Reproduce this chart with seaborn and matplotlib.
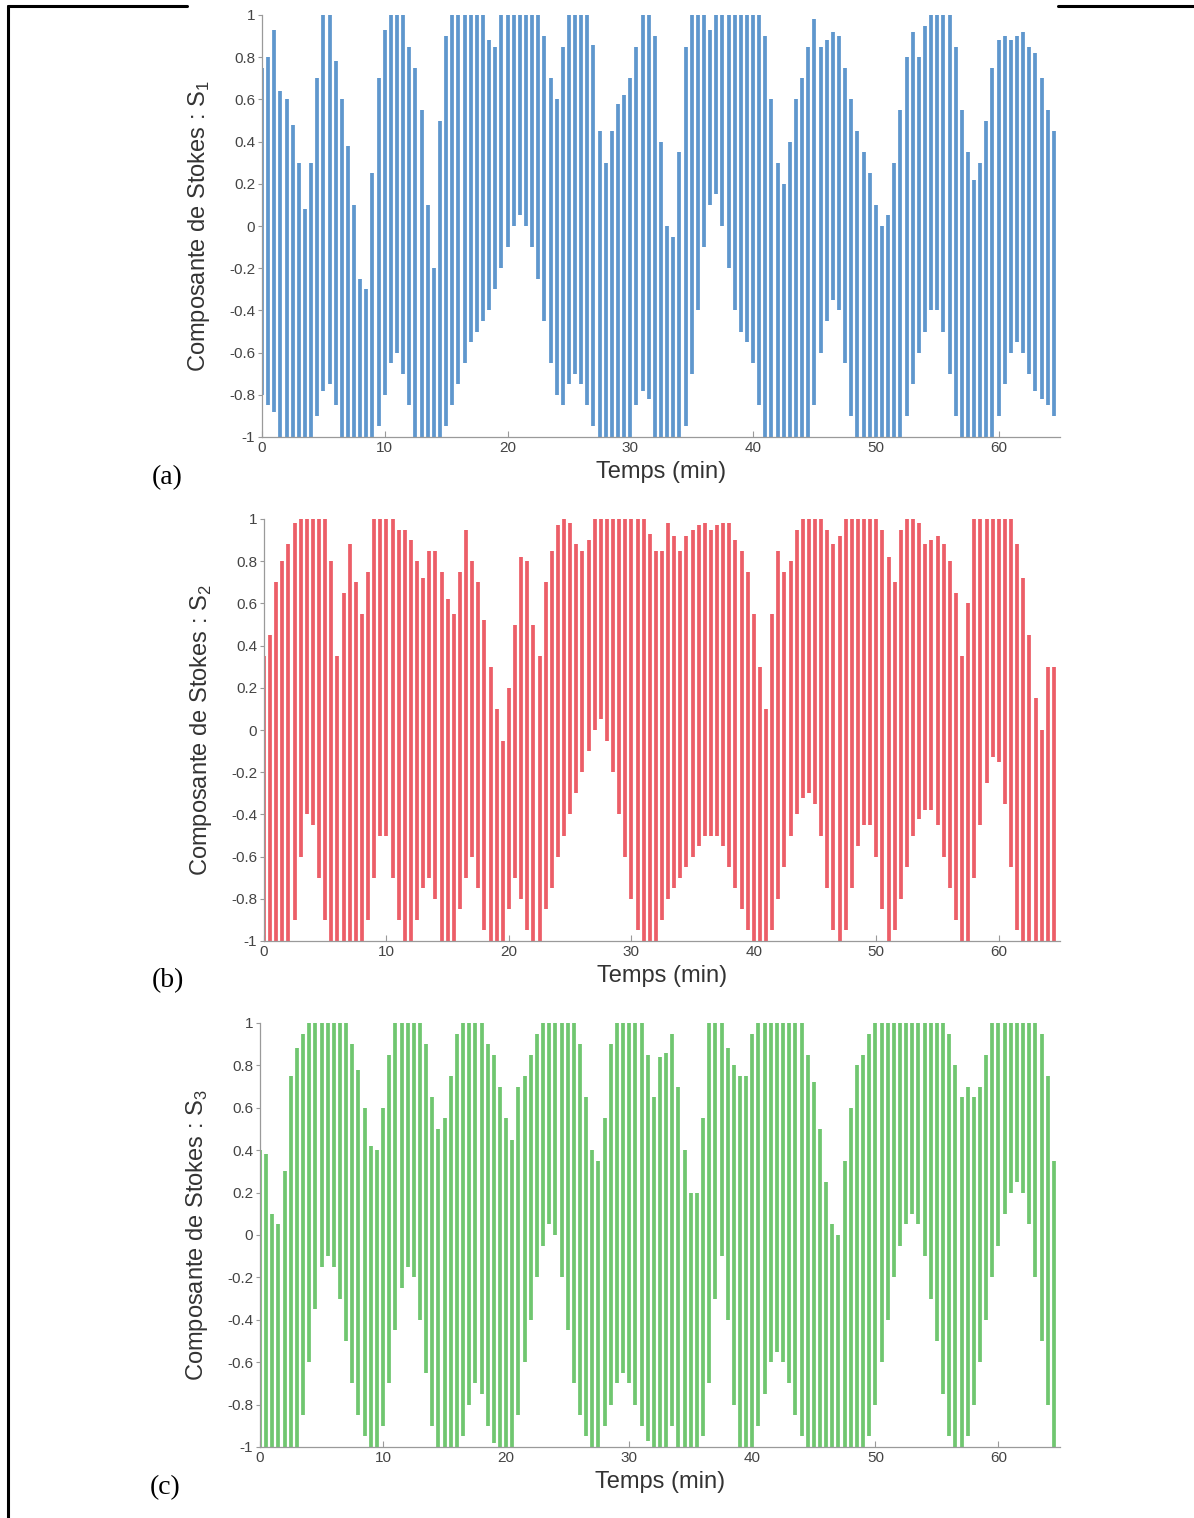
import numpy as np
import pandas as pd
import seaborn as sns
import matplotlib
matplotlib.use('Agg')
import matplotlib.pyplot as plt
from matplotlib.lines import Line2D

# instants des oscillations (min) : une barre toutes les 30 s
temps = np.arange(130) * 0.5

# S1 : sommet et creux de chaque oscillation
s1_haut = [0.75, 0.8, 0.93, 0.64, 0.6, 0.48, 0.3, 0.08, 0.3, 0.7,
           1.0, 1.0, 0.78, 0.6, 0.38, 0.1, -0.25, -0.3, 0.25, 0.7,
           0.93, 1.0, 1.0, 1.0, 0.85, 0.75, 0.55, 0.1, -0.2, 0.5,
           0.9, 1.0, 1.0, 1.0, 1.0, 1.0, 1.0, 0.88, 0.85, 1.0,
           1.0, 1.0, 1.0, 1.0, 1.0, 1.0, 0.9, 0.7, 0.6, 0.85,
           1.0, 1.0, 1.0, 1.0, 0.86, 0.45, 0.3, 0.45, 0.58, 0.62,
           0.7, 0.85, 1.0, 1.0, 0.9, 0.4, 0.0, -0.05, 0.35, 0.85,
           1.0, 1.0, 1.0, 0.93, 1.0, 1.0, 1.0, 1.0, 1.0, 1.0,
           1.0, 1.0, 0.9, 0.6, 0.3, 0.2, 0.4, 0.6, 0.7, 0.85,
           0.98, 0.85, 0.88, 0.92, 0.9, 0.75, 0.6, 0.45, 0.35, 0.25,
           0.1, 0.0, 0.05, 0.3, 0.55, 0.8, 0.92, 0.8, 0.95, 1.0,
           1.0, 1.0, 1.0, 0.85, 0.55, 0.35, 0.22, 0.3, 0.5, 0.75,
           0.88, 0.9, 0.88, 0.9, 0.92, 0.85, 0.82, 0.7, 0.55, 0.45]
s1_bas = [-0.8, -0.85, -0.88, -1, -1, -1, -1, -1, -1, -0.9,
          -0.78, -0.75, -0.85, -1, -1, -1, -1, -1, -1, -0.95,
          -0.8, -0.65, -0.6, -0.7, -0.85, -1, -1, -1, -1, -1,
          -0.95, -0.85, -0.75, -0.65, -0.55, -0.5, -0.45, -0.4, -0.3, -0.2,
          -0.1, 0.0, 0.05, 0.0, -0.1, -0.25, -0.45, -0.65, -0.8, -0.85,
          -0.75, -0.7, -0.75, -0.85, -0.95, -1, -1, -1, -1, -1,
          -1, -0.85, -0.78, -0.82, -1, -1, -1, -1, -1, -0.95,
          -0.7, -0.4, -0.1, 0.1, 0.15, 0.0, -0.2, -0.4, -0.5, -0.55,
          -0.65, -0.85, -1, -1, -1, -1, -1, -1, -1, -1,
          -0.85, -0.6, -0.45, -0.35, -0.4, -0.65, -0.9, -1, -1, -1,
          -1, -1, -1, -1, -1, -0.9, -0.75, -0.6, -0.5, -0.4,
          -0.4, -0.5, -0.7, -0.9, -1, -1, -1, -1, -1, -1,
          -0.9, -0.75, -0.6, -0.55, -0.6, -0.7, -0.78, -0.82, -0.85, -0.9]

# S2
s2_haut = [0.35, 0.45, 0.7, 0.8, 0.88, 0.98, 1.0, 1.0, 1.0, 1.0,
           1.0, 0.8, 0.35, 0.65, 0.88, 0.7, 0.55, 0.75, 1.0, 1.0,
           1.0, 1.0, 0.95, 0.95, 0.9, 0.8, 0.72, 0.85, 0.85, 0.75,
           0.62, 0.55, 0.75, 0.95, 0.8, 0.7, 0.52, 0.3, 0.1, -0.05,
           0.2, 0.5, 0.82, 0.8, 0.5, 0.35, 0.7, 0.85, 0.97, 1.0,
           0.98, 0.88, 0.85, 0.9, 1.0, 1.0, 1.0, 1.0, 1.0, 1.0,
           1.0, 1.0, 1.0, 0.93, 0.85, 0.85, 0.98, 0.92, 0.85, 0.92,
           0.95, 0.97, 0.98, 0.95, 0.97, 0.98, 0.98, 0.9, 0.85, 0.75,
           0.55, 0.3, 0.1, 0.55, 0.85, 0.75, 0.8, 0.95, 1.0, 1.0,
           1.0, 1.0, 0.95, 0.88, 0.92, 1.0, 1.0, 1.0, 1.0, 1.0,
           1.0, 0.95, 0.82, 0.7, 0.95, 1.0, 1.0, 0.98, 0.88, 0.9,
           0.92, 0.88, 0.8, 0.65, 0.35, 0.6, 1.0, 1.0, 1.0, 1.0,
           1.0, 1.0, 1.0, 0.88, 0.72, 0.45, 0.15, 0.0, 0.3, 0.3]
s2_bas = [-1, -1, -1, -1, -1, -0.9, -0.6, -0.4, -0.45, -0.7,
          -0.9, -1, -1, -1, -1, -1, -1, -0.9, -0.7, -0.5,
          -0.5, -0.7, -0.9, -1, -1, -0.9, -0.75, -0.7, -0.8, -1,
          -1, -1, -0.85, -0.7, -0.6, -0.75, -0.95, -1, -1, -1,
          -0.85, -0.7, -0.8, -0.95, -1, -1, -0.85, -0.75, -0.6, -0.5,
          -0.4, -0.3, -0.2, -0.1, 0.0, 0.05, -0.05, -0.2, -0.4, -0.6,
          -0.8, -0.95, -1, -1, -1, -0.9, -0.8, -0.75, -0.7, -0.65,
          -0.6, -0.55, -0.5, -0.5, -0.5, -0.55, -0.65, -0.75, -0.85, -0.95,
          -1, -1, -1, -0.95, -0.8, -0.65, -0.5, -0.4, -0.32, -0.3,
          -0.35, -0.5, -0.75, -0.95, -1, -0.95, -0.75, -0.55, -0.45, -0.45,
          -0.6, -0.85, -1, -0.95, -0.8, -0.65, -0.5, -0.42, -0.38, -0.38,
          -0.45, -0.6, -0.75, -0.9, -1, -1, -0.7, -0.45, -0.25, -0.13,
          -0.15, -0.35, -0.65, -0.95, -1, -1, -1, -1, -1, -1]

# S3
s3_haut = [0.4, 0.38, 0.1, 0.05, 0.3, 0.75, 0.88, 0.95, 1.0, 1.0,
           1.0, 1.0, 1.0, 1.0, 1.0, 0.9, 0.78, 0.6, 0.42, 0.4,
           0.6, 0.85, 1.0, 1.0, 1.0, 1.0, 1.0, 0.9, 0.65, 0.5,
           0.55, 0.75, 0.95, 1.0, 1.0, 1.0, 1.0, 0.9, 0.85, 0.7,
           0.55, 0.45, 0.7, 0.75, 0.85, 0.95, 1.0, 1.0, 1.0, 1.0,
           1.0, 1.0, 0.9, 0.65, 0.4, 0.35, 0.55, 0.9, 1.0, 1.0,
           1.0, 1.0, 1.0, 0.85, 0.65, 0.84, 0.86, 0.95, 0.7, 0.4,
           0.2, 0.2, 0.55, 1.0, 1.0, 1.0, 0.88, 0.8, 0.75, 0.75,
           0.95, 1.0, 1.0, 1.0, 1.0, 1.0, 1.0, 1.0, 1.0, 0.85,
           0.72, 0.5, 0.25, 0.05, 0.0, 0.35, 0.6, 0.8, 0.85, 0.95,
           1.0, 1.0, 1.0, 1.0, 1.0, 1.0, 1.0, 1.0, 1.0, 1.0,
           1.0, 1.0, 0.95, 0.8, 0.65, 0.7, 0.65, 0.7, 0.85, 1.0,
           1.0, 1.0, 1.0, 1.0, 1.0, 1.0, 1.0, 0.95, 0.75, 0.35]
s3_bas = [-1, -1, -1, -1, -1, -1, -1, -0.85, -0.6, -0.35,
          -0.15, -0.1, -0.15, -0.3, -0.5, -0.7, -0.85, -0.95, -1, -1,
          -0.9, -0.7, -0.45, -0.25, -0.15, -0.2, -0.4, -0.65, -0.9, -1,
          -1, -1, -1, -0.95, -0.8, -0.7, -0.75, -0.9, -0.98, -1,
          -1, -1, -0.85, -0.6, -0.4, -0.2, -0.05, 0.05, 0.0, -0.2,
          -0.45, -0.7, -0.85, -0.95, -1, -1, -0.9, -0.8, -0.7, -0.65,
          -0.7, -0.8, -0.9, -0.97, -1, -1, -1, -0.9, -1, -1,
          -1, -1, -0.95, -0.7, -0.3, -0.1, -0.4, -0.8, -1, -1,
          -1, -0.9, -0.75, -0.6, -0.55, -0.6, -0.7, -0.85, -0.95, -1,
          -1, -1, -1, -1, -1, -1, -1, -1, -1, -0.95,
          -0.8, -0.6, -0.4, -0.2, -0.05, 0.05, 0.1, 0.05, -0.1, -0.3,
          -0.5, -0.75, -0.95, -1, -1, -0.95, -0.8, -0.6, -0.4, -0.2,
          -0.05, 0.1, 0.2, 0.25, 0.2, 0.05, -0.2, -0.5, -0.8, -1]

graduations_x = [0, 10, 20, 30, 40, 50, 60]
graduations_y = [-1, -0.8, -0.6, -0.4, -0.2, 0, 0.2, 0.4, 0.6, 0.8, 1]
etiquettes_y = ['-1', '-0.8', '-0.6', '-0.4', '-0.2', '0', '0.2', '0.4', '0.6', '0.8', '1']

sns.set_theme(style='white')
plt.rcParams['font.family'] = ['Liberation Sans', 'DejaVu Sans']

W, H = 1194, 1518
fig = plt.figure(figsize=(W / 100, H / 100), dpi=100)

# cadre du tableau autour de la figure
cadre = dict(color='black', lw=2.2, transform=fig.transFigure)
fig.add_artist(Line2D([8 / W, 8 / W], [0, 1 - 6 / H], **cadre))
fig.add_artist(Line2D([8 / W, 187 / W], [1 - 6 / H, 1 - 6 / H], **cadre))
fig.add_artist(Line2D([1058 / W, 1], [1 - 6 / H, 1 - 6 / H], **cadre))

# (haut, bas, couleur, indice, lettre, boite en pixels gauche/haut/droite/bas, position lettre)
panneaux = [
    (s1_haut, s1_bas, '#5f97cd', '1', '(a)', (262, 15, 1060, 437), (152, 478)),
    (s2_haut, s2_bas, '#ec5e68', '2', '(b)', (264, 519, 1060, 941), (152, 981)),
    (s3_haut, s3_bas, '#70c670', '3', '(c)', (260, 1023, 1060, 1447), (150, 1488)),
]

for haut, bas, couleur, indice, lettre, (g, h, d, b), (lx, ly) in panneaux:
    df = pd.DataFrame({
        't': np.repeat(temps, 2),
        'S': np.column_stack([bas, haut]).ravel(),
        'barre': np.repeat(np.arange(len(temps)), 2),
    })
    ax = fig.add_axes([g / W, 1 - b / H, (d - g) / W, (b - h) / H])
    sns.lineplot(data=df, x='t', y='S', units='barre', estimator=None,
                 color=couleur, lw=2.7, solid_capstyle='butt', ax=ax)
    ax.set_xlim(0, 65)
    ax.set_ylim(-1, 1)
    ax.set_xticks(graduations_x)
    ax.set_yticks(graduations_y)
    ax.set_yticklabels(etiquettes_y)
    for cote in ['top', 'right']:
        ax.spines[cote].set_visible(False)
    for cote in ['left', 'bottom']:
        ax.spines[cote].set_color('#9a9a9a')
        ax.spines[cote].set_linewidth(0.9)
    ax.tick_params(axis='y', direction='out', length=3, width=0.8, color='#9a9a9a',
                   pad=2, labelsize=11, labelcolor='#444444', left=True)
    ax.tick_params(axis='x', direction='in', length=4, width=0.8, color='#9a9a9a',
                   pad=3, labelsize=11, labelcolor='#444444', bottom=True)
    ax.set_xlabel('Temps (min)', fontsize=17, color='#333333', labelpad=4)
    ax.set_ylabel('Composante de Stokes : S$_\\mathregular{' + indice + '}$',
                  fontsize=17, color='#333333', labelpad=12)
    fig.text(lx / W, 1 - ly / H, lettre, fontsize=20, family='Liberation Serif',
             ha='left', va='center', color='black')

fig.savefig('out.png', dpi=100, facecolor='white')
